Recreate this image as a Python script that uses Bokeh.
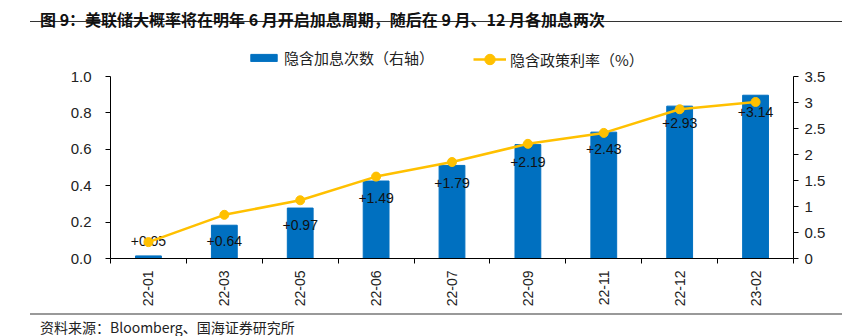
import numpy as np
from bokeh.plotting import figure
from bokeh.models import Range1d, LinearAxis, FixedTicker, Legend, LegendItem, Div
from bokeh.layouts import column
from bokeh.embed import file_html
from bokeh.resources import INLINE
from bokeh.core.properties import value

categories = ["22-01", "22-03", "22-05", "22-06", "22-07", "22-09", "22-11", "22-12", "23-02"]
hikes = [0.05, 0.64, 0.97, 1.49, 1.79, 2.19, 2.43, 2.93, 3.14]
rate = [0.09, 0.24, 0.32, 0.45, 0.53, 0.63, 0.69, 0.82, 0.86]
left_ticks = [0, 0.2, 0.4, 0.6, 0.8, 1.0]
right_ticks = [0, 0.5, 1, 1.5, 2, 2.5, 3, 3.5]
title_text = "图 9：美联储大概率将在明年 6 月开启加息周期，随后在 9 月、12 月各加息两次"
source_text = "资料来源：Bloomberg、国海证券研究所"
bar_name = "隐含加息次数（右轴）"
line_name = "隐含政策利率（%）"

BLUE = "#0070C0"
GOLD = "#FFC000"
CJK = "Noto Sans CJK SC"
NUM = "Liberation Sans"
W = 842

idx = list(range(len(categories)))

# ---------- title block ----------
top = Div(width=W, height=40, margin=0, text=(
    f'<div style="margin:0 0 0 40px;padding-top:9px;height:21px;font-family:\'{CJK}\';font-size:16px;'
    f'font-weight:bold;line-height:20px;color:#111;white-space:nowrap;">{title_text}</div>'
    f'<div style="margin:0 0 0 30px;width:812px;height:0;border-top:1.5px solid #333;"></div>'))

# ---------- main chart ----------
LEFT_MAX = 1.0
RIGHT_MAX = 3.5
frame_h = 214          # frame includes legend row above the plotted area
plot_h = 182
p = figure(width=W, height=272,
           x_range=Range1d(-0.5, len(categories) - 0.5),
           y_range=Range1d(0, LEFT_MAX * frame_h / plot_h),
           output_backend="svg", toolbar_location=None,
           min_border_left=110, min_border_right=49, min_border_top=272 - 54 - frame_h,
           min_border_bottom=54)
p.outline_line_color = None
p.grid.visible = False
p.extra_y_ranges = {"right": Range1d(0, RIGHT_MAX * frame_h / plot_h)}

xa = p.xaxis[0]
xa.ticker = FixedTicker(ticks=idx, minor_ticks=[i - 0.5 for i in range(len(categories) + 1)])
xa.major_label_overrides = {i: c for i, c in enumerate(categories)}
xa.major_tick_line_color = None
xa.minor_tick_out = 5
xa.minor_tick_in = 0
xa.minor_tick_line_color = "black"
xa.major_label_orientation = np.pi / 2
xa.major_label_text_font = NUM
xa.major_label_text_font_size = "14px"
xa.major_label_text_color = "#222222"
xa.major_label_standoff = 6
xa.axis_line_color = "black"

ya = p.yaxis[0]
ya.ticker = FixedTicker(ticks=left_ticks)
ya.bounds = (0, LEFT_MAX)
ya.major_label_overrides = {t: f"{t:.1f}" for t in left_ticks}
ya.minor_tick_line_color = None
ya.major_tick_out = 5
ya.major_tick_in = 0
ya.major_label_text_font = NUM
ya.major_label_text_font_size = "15px"
ya.major_label_text_color = "#222222"
ya.major_label_standoff = 14
ya.axis_line_color = "black"

ra = LinearAxis(y_range_name="right")
ra.ticker = FixedTicker(ticks=right_ticks)
ra.bounds = (0, RIGHT_MAX)
ra.major_label_overrides = {t: (f"{t:g}") for t in right_ticks}
ra.minor_tick_line_color = None
ra.major_tick_out = 5
ra.major_tick_in = 0
ra.major_label_text_font = NUM
ra.major_label_text_font_size = "15px"
ra.major_label_text_color = "#222222"
ra.major_label_standoff = 6
ra.axis_line_color = "black"
p.add_layout(ra, "right")

bars = p.vbar(x=idx, top=hikes, width=0.34, fill_color=BLUE, line_color=BLUE, y_range_name="right")

label_y = np.maximum(np.array(hikes) - 0.33, 0.33)
p.text(x=idx, y=list(label_y), text=[f"+{h:.2f}" for h in hikes], y_range_name="right",
       text_font=value(NUM), text_font_size="14px", text_align="center", text_baseline="middle",
       text_color="#111111")

ln = p.line(idx, rate, line_color=GOLD, line_width=2.5)
dots = p.scatter(idx, rate, size=9, fill_color=GOLD, line_color=GOLD)

common = dict(orientation="horizontal", border_line_color=None, background_fill_alpha=0,
              padding=0, margin=0, glyph_width=33, label_standoff=4, label_height=16,
              label_text_font=CJK, label_text_font_size="15px", label_text_color="#222222")
legend1 = Legend(items=[LegendItem(label=bar_name, renderers=[bars])],
                 location=(137, 190), glyph_height=9, **common)
legend2 = Legend(items=[LegendItem(label=line_name, renderers=[ln, dots])],
                 location=(363, 186), glyph_height=26, **common)
p.add_layout(legend1)
p.add_layout(legend2)

# ---------- source block ----------
bot = Div(width=W, height=24, margin=0, text=(
    f'<div style="margin:1px 0 0 30px;width:812px;height:0;border-top:2px solid #999;"></div>'
    f'<div style="margin:3px 0 0 40px;font-family:\'{CJK}\';font-size:14px;line-height:18px;'
    f'color:#222;white-space:nowrap;">{source_text}</div>'))

layout = column(top, p, bot, spacing=0)
open("out.html", "w").write(file_html(layout, INLINE))
